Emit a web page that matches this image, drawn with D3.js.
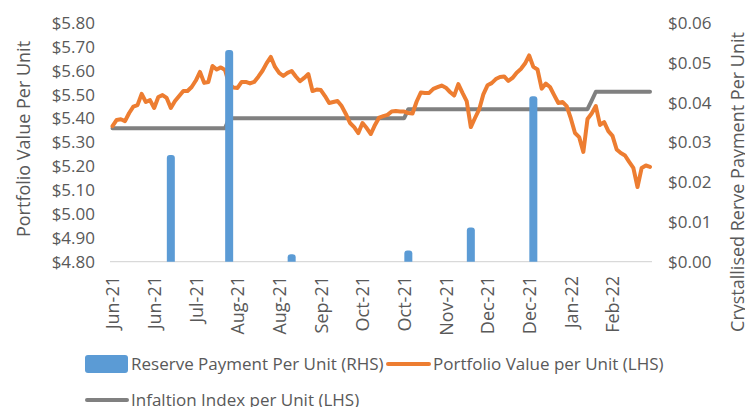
<!DOCTYPE html>
<html><head><meta charset="utf-8">
<script src="https://cdn.jsdelivr.net/npm/d3@7"></script>
<style>body{margin:0;background:#fff;} svg{display:block;}</style>
</head><body>
<svg id="chart" width="745" height="407"></svg>
<script>
const xTickLabels = ["Jun-21","Jun-21","Jul-21","Aug-21","Aug-21","Sep-21","Oct-21","Oct-21","Nov-21","Dec-21","Dec-21","Jan-22","Feb-22"];
const xTickIndex = [0,10,20,30,40,50,60,70,80,90,100,110,120];
const leftTicks = [4.8,4.9,5.0,5.1,5.2,5.3,5.4,5.5,5.6,5.7,5.8];
const rightTicks = [0,0.01,0.02,0.03,0.04,0.05,0.06];
const portfolioValue = [
5.368,5.394,5.397,5.389,5.423,5.450,5.456,5.503,5.469,5.477,
5.444,5.490,5.498,5.486,5.444,5.473,5.494,5.515,5.515,5.532,
5.559,5.595,5.549,5.553,5.620,5.605,5.614,5.603,5.544,5.530,
5.528,5.553,5.553,5.547,5.553,5.575,5.600,5.632,5.658,5.616,
5.591,5.578,5.591,5.599,5.576,5.556,5.570,5.586,5.515,5.521,
5.519,5.494,5.465,5.469,5.473,5.452,5.419,5.381,5.364,5.339,
5.381,5.360,5.335,5.373,5.404,5.410,5.415,5.429,5.431,5.429,
5.429,5.423,5.421,5.471,5.509,5.507,5.507,5.524,5.531,5.538,
5.529,5.511,5.496,5.544,5.507,5.473,5.364,5.402,5.438,5.501,
5.539,5.548,5.565,5.574,5.576,5.557,5.570,5.592,5.607,5.630,
5.664,5.616,5.605,5.525,5.546,5.532,5.498,5.465,5.469,5.452,
5.400,5.339,5.322,5.260,5.398,5.421,5.452,5.373,5.385,5.347,
5.327,5.270,5.255,5.245,5.218,5.193,5.113,5.193,5.203,5.197];
const inflationIndex = [
5.359,5.359,5.359,5.359,5.359,5.359,5.359,5.359,5.359,5.359,
5.359,5.359,5.359,5.359,5.359,5.359,5.359,5.359,5.359,5.359,
5.359,5.359,5.359,5.359,5.359,5.359,5.359,5.359,5.401,5.401,
5.401,5.401,5.401,5.401,5.401,5.401,5.401,5.401,5.401,5.401,
5.401,5.401,5.401,5.401,5.401,5.401,5.401,5.401,5.401,5.401,
5.401,5.401,5.401,5.401,5.401,5.401,5.401,5.401,5.401,5.401,
5.401,5.401,5.401,5.401,5.401,5.401,5.401,5.401,5.401,5.401,
5.401,5.439,5.439,5.439,5.439,5.439,5.439,5.439,5.439,5.439,
5.439,5.439,5.439,5.439,5.439,5.439,5.439,5.439,5.439,5.439,
5.439,5.439,5.439,5.439,5.439,5.439,5.439,5.439,5.439,5.439,
5.439,5.439,5.439,5.439,5.439,5.439,5.439,5.439,5.439,5.439,
5.439,5.439,5.439,5.439,5.439,5.475,5.512,5.512,5.512,5.512,
5.512,5.512,5.512,5.512,5.512,5.512,5.512,5.512,5.512,5.512];
const reserveIndex = [14,28,43,71,86,101];
const reservePayment = [0.0268,0.0532,0.0019,0.0028,0.0086,0.0416];

const FONT = "Open Sans";
const TXT = "#595959";
const svg = d3.select("#chart");
const x = d3.scaleLinear().domain([0,129]).range([112.5,650]);
const yL = d3.scaleLinear().domain([4.8,5.8]).range([261.7,23]);
const yR = d3.scaleLinear().domain([0,0.06]).range([261.7,23]);

// baseline
svg.append("line").attr("x1",110).attr("x2",652).attr("y1",yR(0)).attr("y2",yR(0))
  .attr("stroke","#D9D9D9").attr("stroke-width",1.2);

// left axis
const gL = svg.append("g").attr("transform","translate(95,0)")
  .call(d3.axisLeft(yL).tickValues(leftTicks).tickFormat(d3.format("$.2f")).tickSize(0).tickPadding(0));
gL.select(".domain").remove();
gL.selectAll("text").attr("font-size",17).attr("font-family",FONT).attr("fill",TXT);

// right axis
const gR = svg.append("g").attr("transform","translate(668,0)")
  .call(d3.axisRight(yR).tickValues(rightTicks).tickFormat(d3.format("$.2f")).tickSize(0).tickPadding(0));
gR.select(".domain").remove();
gR.selectAll("text").attr("font-size",17).attr("font-family",FONT).attr("fill",TXT);

// x axis
const gX = svg.append("g").attr("transform","translate(0,262)")
  .call(d3.axisBottom(x).tickValues(xTickIndex).tickFormat((d,i)=>xTickLabels[i]).tickSize(0));
gX.select(".domain").remove();
gX.selectAll("text").attr("font-size",18).attr("font-family",FONT).attr("fill",TXT)
  .attr("transform","rotate(-90)").attr("text-anchor","end").attr("x",-14).attr("y",0).attr("dy","0.36em");

// lines
const lineL = d3.line().x((d,i)=>x(i)).y(d=>yL(d));
svg.append("path").datum(inflationIndex).attr("d",lineL).attr("fill","none")
  .attr("stroke","#808080").attr("stroke-width",4).attr("stroke-linejoin","round").attr("stroke-linecap","round");
svg.append("path").datum(portfolioValue).attr("d",lineL).attr("fill","none")
  .attr("stroke","#ED7D31").attr("stroke-width",4).attr("stroke-linejoin","round").attr("stroke-linecap","round");

// bars (secondary axis), clipped at baseline so only the tops are rounded
svg.append("clipPath").attr("id","plotclip").append("rect").attr("x",100).attr("y",0).attr("width",560).attr("height",yR(0));
svg.append("g").attr("clip-path","url(#plotclip)").selectAll("rect").data(reserveIndex).join("rect")
  .attr("x",d=>x(d)-4).attr("width",8)
  .attr("y",(d,i)=>yR(reservePayment[i])).attr("height",(d,i)=>yR(0)-yR(reservePayment[i])+6)
  .attr("rx",3).attr("fill","#5B9BD5");

// axis titles
svg.append("text").attr("transform","translate(29.5,139) rotate(-90)").attr("text-anchor","middle")
  .attr("font-family",FONT).attr("font-size",18).attr("fill",TXT).text("Portfolio Value Per Unit");
svg.append("text").attr("transform","translate(744,182) rotate(-90)").attr("text-anchor","middle")
  .attr("font-family",FONT).attr("font-size",18).attr("fill",TXT).text("Crystallised Rerve Payment Per Unit");

// legend
const LY1 = 364, LY2 = 400;
svg.append("rect").attr("x",85).attr("y",LY1-9).attr("width",43).attr("height",18).attr("rx",3).attr("fill","#5B9BD5");
svg.append("text").attr("x",131).attr("y",LY1).attr("dy","0.36em").attr("font-family",FONT).attr("font-size",17).attr("fill",TXT)
  .text("Reserve Payment Per Unit (RHS)");
svg.append("line").attr("x1",388).attr("x2",429).attr("y1",LY1).attr("y2",LY1)
  .attr("stroke","#ED7D31").attr("stroke-width",4).attr("stroke-linecap","round");
svg.append("text").attr("x",433).attr("y",LY1).attr("dy","0.36em").attr("font-family",FONT).attr("font-size",17).attr("fill",TXT)
  .text("Portfolio Value per Unit (LHS)");
svg.append("line").attr("x1",87).attr("x2",127).attr("y1",LY2).attr("y2",LY2)
  .attr("stroke","#808080").attr("stroke-width",4).attr("stroke-linecap","round");
svg.append("text").attr("x",131).attr("y",LY2).attr("dy","0.36em").attr("font-family",FONT).attr("font-size",17).attr("fill",TXT)
  .text("Infaltion Index per Unit (LHS)");
</script>
</body></html>
